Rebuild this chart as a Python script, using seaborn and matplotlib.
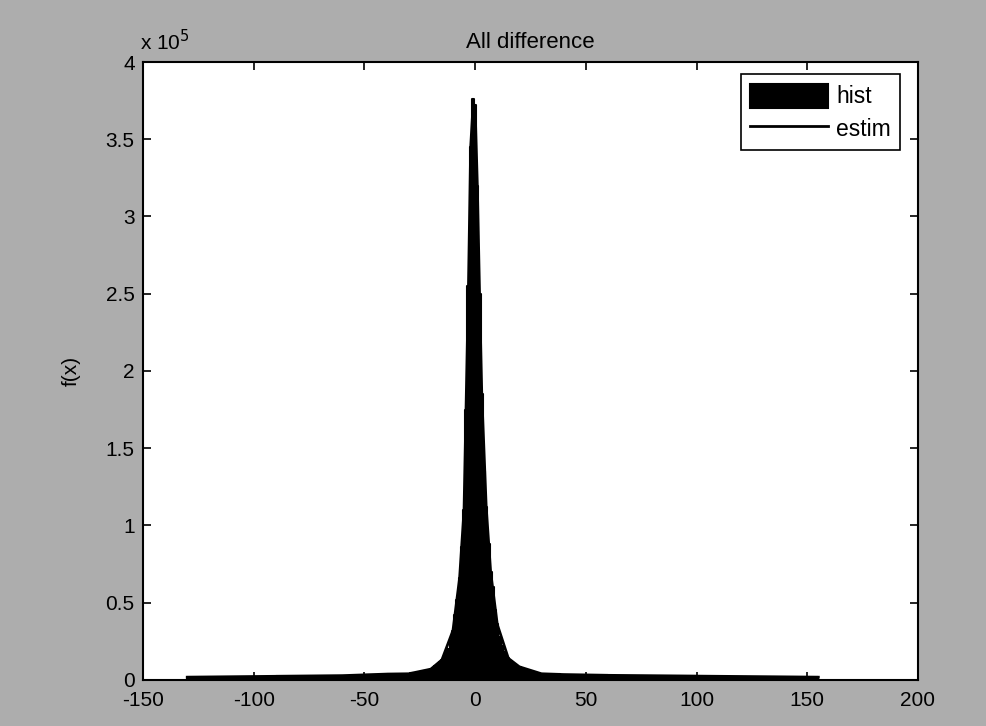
import numpy as np
import pandas as pd
import seaborn as sns
from matplotlib import pyplot as plt
from matplotlib.ticker import FuncFormatter

# bin edges of the histogram: coarse tails, unit bins in the middle
left_tail_edges = [-130, -120, -110, -100, -90, -80, -70, -60, -50, -40]
center_edges = [e - 0.5 for e in range(-30, 42)]
right_tail_edges = [50, 60, 70, 80, 90, 100, 110, 120, 130, 140, 150, 155]

# bar heights (counts)
left_tail_counts = [1800, 2000, 2100, 2200, 2300, 2400, 2600, 2800, 3200, 3800]
center_counts_e5 = [0.040, 0.042, 0.044, 0.046, 0.048, 0.050, 0.053, 0.056, 0.060, 0.065,
                    0.070, 0.078, 0.088, 0.100, 0.115, 0.130, 0.150, 0.170, 0.200, 0.250,
                    0.320, 0.420, 0.520, 0.660, 0.860, 1.100, 1.750, 2.550, 3.450, 3.760,
                    3.720, 3.200, 2.500, 1.850, 1.350, 1.120, 0.880, 0.700, 0.600, 0.450,
                    0.360, 0.280, 0.220, 0.180, 0.160, 0.140, 0.125, 0.110, 0.100, 0.092,
                    0.085, 0.078, 0.072, 0.066, 0.060, 0.055, 0.050, 0.046, 0.043, 0.040,
                    0.040, 0.039, 0.039, 0.038, 0.038, 0.037, 0.037, 0.036, 0.036, 0.035,
                    0.035]
right_tail_counts = [3400, 3000, 2700, 2500, 2400, 2300, 2200, 2100, 2000, 2000, 1900, 1800]

# estimated density curve (same scale as the histogram)
estim_x = [-130, -60, -40, -30, -20, -15, -10, -7, -5, -3, -2, -1, 0, 1, 2, 3, 5, 7, 10, 15, 20, 30, 40, 60, 155]
estim_y = [1800, 2800, 3800, 4000, 7000, 13000, 32000, 66000, 110000, 255000, 345000, 370000, 370000,
           320000, 250000, 185000, 112000, 70000, 36000, 14000, 8500, 4000, 3500, 3000, 1800]

edges = left_tail_edges + center_edges + right_tail_edges
counts = left_tail_counts + [v * 1e5 for v in center_counts_e5] + right_tail_counts
centers = [(a + b) / 2 for a, b in zip(edges[:-1], edges[1:])]
hist_df = pd.DataFrame({"x": centers, "w": counts})

plt.rcParams['font.family'] = ['Liberation Sans', 'DejaVu Sans']
plt.rcParams['axes.unicode_minus'] = False

fig = plt.figure(figsize=(9.86, 7.26), dpi=100, facecolor='#adadad')
ax = fig.add_axes([0.145, 0.0634, 0.786, 0.8512])
ax.set_facecolor('white')

sns.histplot(data=hist_df, x="x", weights="w", bins=edges, stat="count", element="step",
             fill=True, color="black", edgecolor="black", linewidth=1.5, alpha=1,
             ax=ax, label="hist")
sns.lineplot(x=estim_x, y=estim_y, color="black", linewidth=2, ax=ax, label="estim")

ax.set_xlim(-150, 200)
ax.set_ylim(0, 4e5)
ax.set_xticks(range(-150, 201, 50))
ax.set_yticks(np.arange(0, 4.01e5, 0.5e5))
ax.yaxis.set_major_formatter(FuncFormatter(lambda v, p: f"{v / 1e5:g}"))

ax.tick_params(direction='in', length=6, width=1.2, top=True, right=True,
               labelsize=15, colors='black')
ax.tick_params(axis='x', pad=8)
ax.tick_params(axis='y', pad=6)
for s in ax.spines.values():
    s.set_color('black')
    s.set_linewidth(1.5)

ax.set_title("All difference", fontsize=16, pad=10)
ax.set_xlabel("")
ax.set_ylabel("f(x)", fontsize=15, labelpad=18)
fig.text(0.142, 0.925, r"x 10$^5$", fontsize=15, ha='left', va='bottom')

handles, labels = ax.get_legend_handles_labels()
order = [labels.index("hist"), labels.index("estim")]
leg = ax.legend([handles[i] for i in order], [labels[i] for i in order],
                loc='upper right', bbox_to_anchor=(0.977, 0.980), borderaxespad=0,
                fontsize=16.5, handlelength=3.4, handleheight=1.25, fancybox=False,
                framealpha=1, edgecolor='black', borderpad=0.4, labelspacing=0.32,
                handletextpad=0.36)
leg.get_frame().set_linewidth(1.2)

fig.savefig("out.png", dpi=100, facecolor=fig.get_facecolor())
